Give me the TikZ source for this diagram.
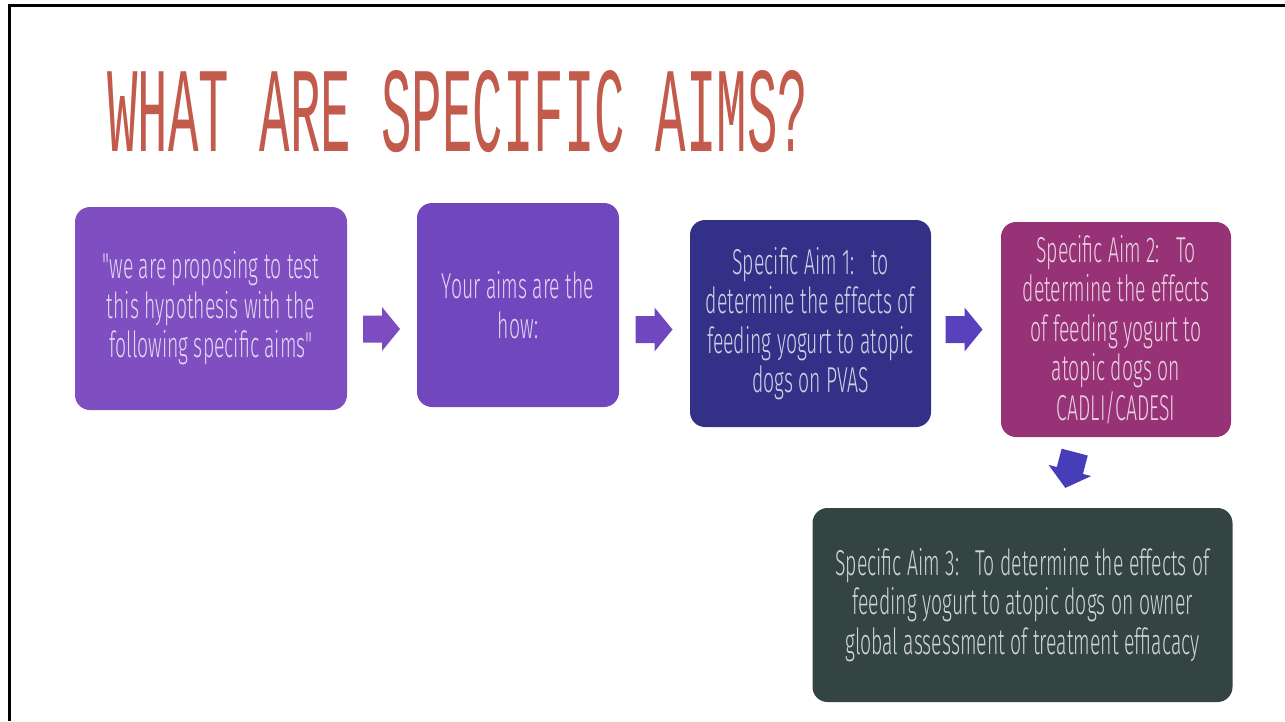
\documentclass[tikz,border=0pt]{standalone}
\usepackage{fontspec}
\usepackage{graphicx}
\newfontfamily\bodyfont[FakeStretch=0.54]{Fira Sans Light}
\newfontfamily\titlefont{Liberation Mono}
\definecolor{titlecol}{HTML}{C25B4B}
\definecolor{boxA}{HTML}{7F4EC0}
\definecolor{boxB}{HTML}{7147BD}
\definecolor{boxC}{HTML}{333088}
\definecolor{boxD}{HTML}{973276}
\definecolor{boxE}{HTML}{344443}
\definecolor{arrA}{HTML}{7D4CC0}
\definecolor{arrB}{HTML}{7047BE}
\definecolor{arrC}{HTML}{5941BD}
\definecolor{arrD}{HTML}{463DB8}
\newcommand\myblockarrow[3]{%
  \fill[#1, shift={(#2)}, rotate=#3] (-18.5,-13.5) -- (0.5,-13.5) -- (0.5,-22) -- (18.5,0) -- (0.5,22) -- (0.5,13.5) -- (-18.5,13.5) -- cycle;}
\begin{document}
\begin{tikzpicture}[x=1pt,y=-1pt,
  box/.style={rounded corners=15pt, inner sep=0pt, align=center,
    font=\bodyfont\fontsize{36}{39.5}\selectfont, text=white, text opacity=0.78}]
\useasboundingbox[fill=white] (0,0) rectangle (1285,721);
\draw[line width=3pt] (1285,5.5) -- (9.5,5.5) -- (9.5,721);
\node[anchor=base west, inner sep=0pt, text=titlecol] (title) at (107,151)
  {\resizebox{701pt}{81pt}{\titlefont WHAT ARE SPECIFIC AIMS?}};
\node[box, fill=boxA, minimum width=272pt, minimum height=203pt] (b1) at (211,308.5)
  {"we are proposing to test\\this hypothesis with the\\following specific aims"};
\node[box, fill=boxB, minimum width=202pt, minimum height=204pt] (b2) at (518,305)
  {Your aims are the\\how:};
\node[box, fill=boxC, minimum width=241pt, minimum height=207pt] (b3) at (810.5,323.5)
  {Specific Aim 1:\ \ \ to\\determine the effects of\\feeding yogurt to atopic\\dogs on PVAS};
\node[box, fill=boxD, minimum width=230pt, minimum height=215pt] (b4) at (1116,329.5)
  {Specific Aim 2:\ \ \ To\\determine the effects\\of feeding yogurt to\\atopic dogs on\\CADLI/CADESI};
\node[box, fill=boxE, minimum width=420pt, minimum height=194pt] (b5) at (1022.5,605)
  {Specific Aim 3:\ \ \ To determine the effects of\\feeding yogurt to atopic dogs on owner\\global assessment of treatment effiacacy};
\myblockarrow{arrA}{381.5,329}{0}
\myblockarrow{arrB}{654,329.5}{0}
\myblockarrow{arrC}{964,329.5}{0}
\myblockarrow{arrD}{1070,470}{-104.7}
\end{tikzpicture}
\end{document}
